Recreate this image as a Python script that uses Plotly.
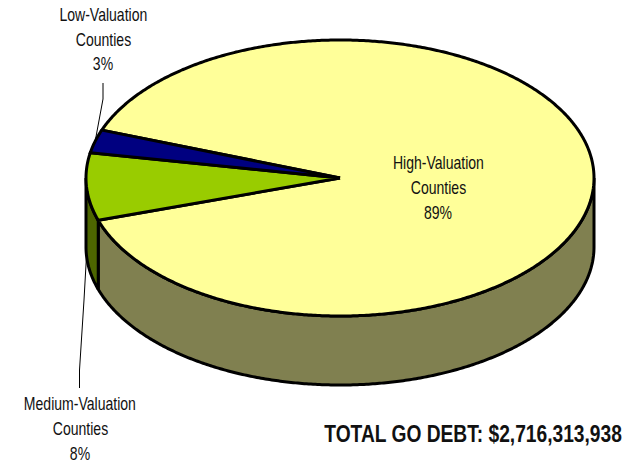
import numpy as np
import plotly.graph_objects as go

# Data, clockwise from the first slice
categories = ["High-Valuation", "Medium-Valuation", "Low-Valuation"]
shares = [89.4, 7.9, 2.7]
top_colors = ["#FFFF99", "#99CC00", "#000080"]
side_colors = ["#808050", "#4D6600", "#000040"]
total_text = "TOTAL GO DEBT: $2,716,313,938"

# Pie geometry in page pixels
CX, CY, RX, RY, DEPTH = 340, 178, 254, 138, 69
START = 159.7
FONT = "Liberation Sans"
LW = 3
INK = "#000000"


def pt(t, dz=0.0):
    t = np.radians(t)
    return CX + RX * np.cos(t), CY - RY * np.sin(t) + dz


def arc(a, b, dz=0.0, step=0.5):
    n = max(2, int(abs(b - a) / step) + 1)
    return pt(np.linspace(a, b, n), dz)


spans = []
cur = START
for v in shares:
    sweep = v / sum(shares) * 360
    spans.append((cur, cur - sweep))
    cur -= sweep

fig = go.Figure()


def add_poly(x, y, fill=None, width=LW):
    fig.add_trace(go.Scatter(
        x=list(x), y=list(y), mode="lines", hoverinfo="skip", showlegend=False,
        fill="toself" if fill else None, fillcolor=fill,
        line=dict(color=INK, width=width, simplify=False),
    ))


# Leader lines, under the pie
lx, ly = pt((spans[2][0] + spans[2][1]) / 2)
add_poly([103, 103, lx], [83, 99, ly], width=1)
mx, my = pt((spans[1][0] + spans[1][1]) / 2, DEPTH)
add_poly([79.5, 79.5, 84, mx], [388, 370, 300, my], width=1)

# Side wall: only the part of each slice facing the viewer (screen bottom, 180..360)
for (a, b), col in zip(spans, side_colors):
    for shift in (0, -360):
        lo, hi = sorted((a + shift, b + shift))
        for wlo, whi in ((-180, 0), (180, 360)):
            s, e = max(lo, wlo), min(hi, whi)
            if e - s > 0.01:
                x1, y1 = arc(s, e)
                x2, y2 = arc(e, s, DEPTH)
                add_poly(np.r_[x1, x2, x1[0]], np.r_[y1, y2, y1[0]], fill=col)

# Top face
for (a, b), col in zip(spans, top_colors):
    x, y = arc(a, b)
    add_poly(np.r_[CX, x, CX], np.r_[CY, y, CY], fill=col)


def label(x, y, text, size=18, bold=False):
    fig.add_annotation(x=x, y=y, text=f"<b>{text}</b>" if bold else text, showarrow=False,
                       xanchor="center", yanchor="middle",
                       font=dict(family=FONT, size=size, color="#111111"))


label_pos = [(438, [163, 188, 213]), (80, [404, 429, 454]), (103, [15, 40, 64])]
for cat, v, (lxp, ys) in zip(categories, shares, label_pos):
    for y, txt in zip(ys, [cat, "Counties", f"{round(v)}%"]):
        label(lxp, y, txt)
label(473, 433, total_text, size=24, bold=True)

fig.update_layout(
    width=636, height=463, margin=dict(l=0, r=0, t=0, b=0),
    paper_bgcolor="white", plot_bgcolor="white", showlegend=False,
    xaxis=dict(range=[0, 636], visible=False, fixedrange=True),
    yaxis=dict(range=[463, 0], visible=False, fixedrange=True),
)
# The reference uses a narrow face: condense the real text horizontally, drop the page margin
post = """
document.body.style.margin = '0';
document.querySelectorAll('.annotation-text').forEach(function (el) {
  el.style.transformBox = 'fill-box';
  el.style.transformOrigin = 'center';
  el.style.transform = el.textContent.indexOf('TOTAL') === 0 ? 'scaleX(0.80)' : 'scaleX(0.78)';
});
"""
fig.write_html("out.html", config={"displayModeBar": False}, post_script=post,
               default_width="636px", default_height="463px")
